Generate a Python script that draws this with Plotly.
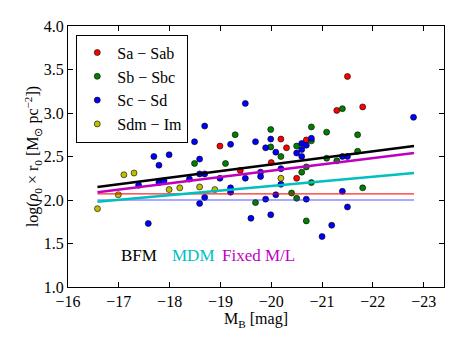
import plotly.graph_objects as go

# Morphological groups: absolute B magnitude and log(rho0 * r0)
sa_mb = [-21.50, -21.29, -21.80, -18.99, -19.39, -20.00, -20.19, -20.30, -20.50, -20.69]
sa_y = [3.42, 3.03, 3.07, 2.62, 2.34, 2.43, 2.70, 2.60, 2.25, 2.69]

sb_mb = [-21.40, -18.49, -19.10, -19.29, -19.69, -19.99, -19.99, -20.19, -20.40, -20.50,
         -20.50, -20.60, -20.69, -20.69, -20.79, -20.79, -20.79, -21.09, -21.09, -21.29,
         -21.70, -21.70, -21.80]
sb_y = [3.05, 2.42, 2.42, 2.75, 1.97, 2.81, 2.61, 2.50, 2.08, 2.62,
        2.02, 2.32, 2.38, 1.76, 2.84, 2.68, 2.20, 2.78, 2.48, 2.45,
        2.75, 2.56, 2.14]

sc_mb = [-19.49, -22.80, -17.39, -17.58, -17.69, -17.79, -17.79, -17.89, -17.99, -18.39,
         -18.49, -18.59, -18.59, -18.59, -18.69, -18.69, -18.69, -18.99, -19.20, -19.20,
         -19.20, -19.49, -19.60, -19.69, -19.79, -19.79, -19.89, -19.89, -19.99, -19.99,
         -20.09, -20.09, -20.19, -20.19, -20.50, -20.60, -20.60, -20.60, -20.69, -20.69,
         -20.79, -21.19, -21.40, -21.40, -21.50, -21.50, -21.00]
sc_y = [3.11, 2.95, 2.17, 1.73, 2.50, 2.40, 2.20, 2.22, 2.52, 2.24,
        2.67, 2.47, 2.30, 1.96, 2.85, 2.30, 2.03, 2.25, 2.64, 2.14,
        2.09, 2.25, 1.79, 2.67, 2.32, 2.27, 2.60, 2.01, 2.70, 1.83,
        2.55, 2.06, 2.36, 2.18, 2.54, 2.65, 2.58, 2.50, 2.63, 2.01,
        2.71, 1.71, 2.50, 2.10, 2.50, 1.92, 1.58]

sdm_mb = [-16.58, -16.99, -17.10, -17.30, -17.99, -18.20, -18.59, -18.89, -20.19]
sdm_y = [1.90, 2.06, 2.29, 2.31, 2.12, 2.14, 2.15, 2.12, 2.25]

# Fitted relations (end points)
fit_mb = [-16.58, -22.81]
bfm_y = [2.15, 2.62]
mdm_y = [1.98, 2.31]
fixed_y = [2.09, 2.54]
red_level = [2.07, 2.07]
blue_level = [2.00, 2.00]

groups = [
    ("Sa \u2212 Sab", sa_mb, sa_y, "#ff0000"),
    ("Sb \u2212 Sbc", sb_mb, sb_y, "#008000"),
    ("Sc \u2212 Sd", sc_mb, sc_y, "#0000ff"),
    ("Sdm \u2212 Im", sdm_mb, sdm_y, "#bfbf00"),
]

serif = "Liberation Serif"

fig = go.Figure()

for name, xs, ys, col in groups:
    fig.add_trace(go.Scatter(
        x=xs, y=ys, mode="markers", name=name,
        marker=dict(color=col, size=6, line=dict(color="black", width=0.6)),
    ))

lines = [
    (red_level, "rgba(255,0,0,0.85)", 1.2),
    (blue_level, "rgba(40,40,255,0.8)", 1.2),
    (mdm_y, "#00bfbf", 2.6),
    (fixed_y, "#bf00bf", 2.6),
    (bfm_y, "black", 2.6),
]
for ys, col, w in lines:
    fig.add_trace(go.Scatter(x=fit_mb, y=ys, mode="lines", showlegend=False,
                             line=dict(color=col, width=w)))

# Model labels
for txt, xpos, col in [("BFM", -17.0, "black"), ("MDM", -18.0, "#00bfbf"), ("Fixed M/L", -19.0, "#bf00bf")]:
    fig.add_annotation(x=xpos, y=1.36, text=txt, showarrow=False, xanchor="left",
                       font=dict(family=serif, size=17, color=col))

axis_common = dict(
    showline=True, linecolor="black", linewidth=1, mirror="ticks",
    ticks="inside", ticklen=5, tickcolor="black", showgrid=False, zeroline=False,
    automargin=False,
    tickfont=dict(family=serif, size=16, color="black"),
)

fig.update_layout(
    width=463, height=348,
    margin=dict(l=68, r=19, t=26, b=61),
    font=dict(family=serif, color="black"),
    paper_bgcolor="white", plot_bgcolor="white",
    xaxis=dict(range=[-16, -23.4], dtick=1, **axis_common,
               title=dict(text="M<sub>B</sub> [mag]", standoff=0,
                          font=dict(family=serif, size=16, color="black"))),
    yaxis=dict(range=[1.0, 4.0], dtick=0.5, tickformat=".1f", **axis_common,
               title=dict(text="log(<i>\u03c1</i><sub>0</sub> \u00d7 r<sub>0</sub> [M<sub>\u2299</sub> pc<sup>\u22122</sup>])",
                          standoff=0, font=dict(family=serif, size=16, color="black"))),
    legend=dict(x=0.022, y=0.967, xanchor="left", yanchor="top",
                bgcolor="white", bordercolor="black", borderwidth=1,
                font=dict(family=serif, size=16, color="black"),
                tracegroupgap=0),
    showlegend=True,
)

# drop the default page margin so the figure sits at the window's corner
fig.write_html("out.html", config={"displayModeBar": False},
               post_script="document.body.style.margin='0';")
